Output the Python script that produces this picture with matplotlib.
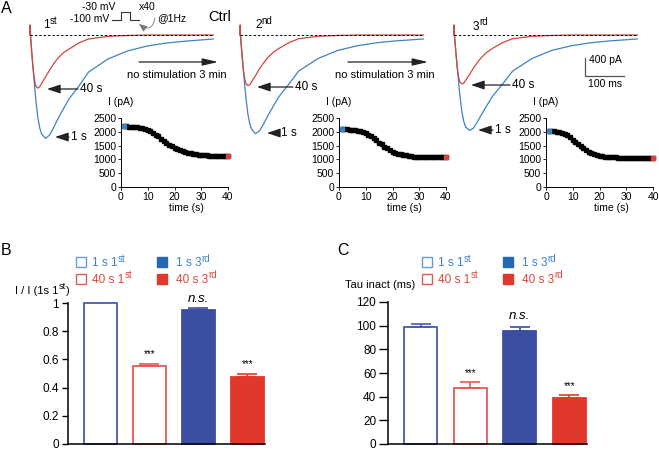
import numpy as np
import matplotlib.pyplot as plt

plt.rcParams['font.family'] = ['Liberation Sans', 'DejaVu Sans']

W, H = 659, 450

# --- current traces (time in ms, current in pA) ---
trace_t = [0, 0.5, 1.5, 3, 6, 9, 12, 15, 20, 25, 30, 40, 50, 60, 70, 85, 100,
           125, 150, 200, 250, 300, 350, 400, 470]
blue_1st = [0, 210, -40, -210, -530, -810, -1110, -1380, -1750, -1980, -2110, -2200,
            -2130, -1980, -1810, -1580, -1360, -1090, -790, -510, -340, -235, -170, -130, -85]
red_1st = [0, 210, -40, -210, -530, -800, -980, -1090, -1130, -1100, -1030, -890,
           -750, -620, -510, -380, -300, -170, -85, -30, -10, 0, 0, 0, 0]
blue_2nd = [0, 210, -40, -200, -500, -780, -1060, -1320, -1670, -1890, -2010, -2100,
            -2040, -1900, -1740, -1520, -1310, -1050, -770, -500, -330, -230, -165, -125, -85]
red_2nd = [0, 210, -40, -200, -500, -760, -930, -1030, -1075, -1060, -990, -860,
           -720, -600, -490, -370, -285, -165, -80, -28, -10, 0, 0, 0, 0]
blue_3rd = [0, 210, -40, -190, -480, -750, -1020, -1280, -1620, -1840, -1960, -2030,
            -1980, -1850, -1700, -1490, -1290, -1040, -770, -500, -330, -230, -165, -125, -85]
red_3rd = [0, 210, -40, -190, -480, -740, -900, -1000, -1040, -1025, -960, -840,
           -700, -585, -480, -360, -280, -160, -80, -28, -10, 0, 0, 0, 0]

# --- peak current during 40 pulses @1Hz (pA) ---
pulse_t = list(range(1, 41))
peak_1st = [2200, 2195, 2190, 2185, 2175, 2165, 2150, 2130, 2110, 2080,
            2030, 1970, 1900, 1830, 1750, 1670, 1600, 1530, 1470, 1420,
            1380, 1340, 1300, 1270, 1240, 1220, 1200, 1185, 1170, 1160,
            1150, 1145, 1140, 1135, 1135, 1130, 1130, 1130, 1130, 1130]
peak_2nd = [2100, 2095, 2090, 2080, 2070, 2055, 2040, 2020, 1990, 1950,
            1895, 1830, 1760, 1690, 1610, 1540, 1465, 1400, 1340, 1285,
            1245, 1210, 1185, 1165, 1145, 1125, 1110, 1100, 1095, 1090,
            1088, 1085, 1083, 1080, 1080, 1078, 1077, 1076, 1075, 1075]
peak_3rd = [2030, 2025, 2015, 2005, 1990, 1960, 1920, 1870, 1800, 1720,
            1640, 1550, 1470, 1400, 1330, 1275, 1230, 1195, 1165, 1140,
            1120, 1105, 1095, 1085, 1078, 1070, 1065, 1060, 1055, 1052,
            1050, 1048, 1046, 1044, 1042, 1040, 1040, 1040, 1040, 1040]

# --- bar charts ---
groups = [('1 s 1', 'st'), ('40 s 1', 'st'), ('1 s 3', 'rd'), ('40 s 3', 'rd')]
ratio_vals = [1.0, 0.552, 0.952, 0.476]
ratio_err = [0, 0.015, 0.01, 0.018]
tau_vals = [98.8, 47.3, 95.1, 39.1]
tau_err = [3.0, 4.8, 4.0, 2.5]
signif = ['', '***', 'n.s.', '***']

BLUE = '#3f82c1'
RED = '#d5433c'
BAR_FACE = ['white', 'white', '#3c4ea2', '#e0392b']
BAR_EDGE = ['#4b5aad', '#df5d55', '#3c4ea2', '#e0392b']
LEG_TEXT = ['#3f80c2', '#d9463d', '#3f80c2', '#d9463d']
LEG_FACE = ['white', 'white', '#2468b2', '#e0392b']
LEG_EDGE = ['#6a9bd1', '#dd5a52', '#2468b2', '#e0392b']

fig = plt.figure(figsize=(W / 100, H / 100), dpi=100)


def box(x0, y0, x1, y1):
    return fig.add_axes([x0 / W, 1 - y1 / H, (x1 - x0) / W, (y1 - y0) / H])


# traces
runs = [(30, blue_1st, red_1st), (240, blue_2nd, red_2nd), (454, blue_3rd, red_3rd)]
trace_axes = []
for start, b, r in runs:
    ax = box(start - 3.9, 20.9, start + 187.2, 152.5)
    ax.set_xlim(-10, 480)
    ax.set_ylim(-2500, 300)
    ax.axis('off')
    ax.plot(trace_t, b, color=BLUE, lw=0.9)
    ax.plot(trace_t, r, color=RED, lw=0.9)
    ax.plot([0, 470], [0, 0], color='k', lw=0.7, ls=(0, (2.5, 2)))
    trace_axes.append(ax)

# scale bar
sb = trace_axes[2]
sb.plot([336, 336, 436], [-480, -880, -880], color='#555555', lw=0.9)
sb.text(345, -540, '400 pA', fontsize=7.5, va='center')
sb.text(388, -1050, '100 ms', fontsize=7.5, va='center', ha='center')

# stimulation protocol
step_t = [0, 1, 1, 2, 2, 3]
step_v = [-100, -100, -30, -30, -100, -100]
st = box(112, 12, 139, 20)
st.set_xlim(0, 3)
st.set_ylim(-100, -30)
st.axis('off')
st.plot(step_t, step_v, color='#333333', lw=0.8, clip_on=False)

# insets
for x0, vals in [(121, peak_1st), (339, peak_2nd), (546, peak_3rd)]:
    ax = box(x0, 118, x0 + 107, 187)
    ax.plot(pulse_t, vals, color='k', marker='s', ms=2.4, lw=0.8, clip_on=False)
    ax.plot(pulse_t[0], vals[0], 's', color=BLUE, ms=2.6, clip_on=False)
    ax.plot(pulse_t[-1], vals[-1], 's', color=RED, ms=2.6, clip_on=False)
    ax.set_xlim(0, 40)
    ax.set_ylim(0, 2500)
    ax.set_xticks([0, 10, 20, 30, 40])
    ax.set_yticks([0, 500, 1000, 1500, 2000, 2500])
    ax.tick_params(labelsize=7.5, length=2, pad=1.5, width=0.6)
    for s in ['top', 'right']:
        ax.spines[s].set_visible(False)
    for s in ['left', 'bottom']:
        ax.spines[s].set_linewidth(0.7)
    ax.text(0, 1.23, 'I (pA)', transform=ax.transAxes, ha='center', va='center', fontsize=7.5)
    ax.text(0.61, -0.30, 'time (s)', transform=ax.transAxes, ha='center', va='center', fontsize=7.5)


def bar_panel(ax, vals, errs, ymax, ticks, ticklabels, star_off, ns_off, fs, ticklen):
    x = np.arange(len(vals))
    ax.bar(x, vals, width=0.67, color=BAR_FACE, edgecolor=BAR_EDGE, linewidth=1.3, clip_on=False, zorder=2)
    for i in range(len(vals)):
        if errs[i] > 0:
            ax.errorbar(x[i], vals[i], yerr=[[0], [errs[i]]], fmt='none', ecolor=BAR_EDGE[i],
                        elinewidth=1.2, capsize=7, capthick=1.2, zorder=3, clip_on=False)
        if signif[i] == '***':
            ax.text(x[i], vals[i] + errs[i] + star_off, '***', ha='center', va='baseline', fontsize=7)
        elif signif[i] == 'n.s.':
            ax.text(x[i], vals[i] + errs[i] + ns_off, 'n.s.', ha='center', va='baseline',
                    fontsize=9.5, style='italic')
    ax.set_xlim(-0.66, 3.36)
    ax.set_ylim(0, ymax)
    ax.set_xticks([])
    ax.set_yticks(ticks)
    ax.set_yticklabels(ticklabels)
    ax.tick_params(axis='y', labelsize=fs, length=ticklen, pad=2, width=1)
    for s in ['top', 'right']:
        ax.spines[s].set_visible(False)
    for s in ['left', 'bottom']:
        ax.spines[s].set_linewidth(1.1)


bx = box(68, 303, 265, 444)
bar_panel(bx, ratio_vals, ratio_err, 1.0, [0, 0.2, 0.4, 0.6, 0.8, 1.0],
          ['0', '0.2', '0.4', '0.6', '0.8', '1'], 0.05, 0.045, 8.5, 4.5)

cx = box(388, 302, 587, 444)
bar_panel(cx, tau_vals, tau_err, 120, [0, 20, 40, 60, 80, 100, 120],
          ['0', '20', '40', '60', '80', '100', '120'], 5, 6.8, 8.5, 6.5)

# overlay for labels and arrows (pixel coordinates, y down)
ov = fig.add_axes([0, 0, 1, 1])
ov.set_xlim(0, W)
ov.set_ylim(H, 0)
ov.axis('off')
renderer = fig.canvas.get_renderer()


def rich(x, y, parts, fs, color='k'):
    # parts: list of (text, superscript?) drawn one after another on one baseline
    for txt, sup in parts:
        size = fs * 0.82 if sup else fs
        yy = y - fs * 0.42 * 100 / 72 if sup else y
        t = ov.text(x, yy, txt, fontsize=size, color=color, va='baseline', ha='left')
        bb = t.get_window_extent(renderer=renderer)
        x = ov.transData.inverted().transform((bb.x1, bb.y0))[0] + 0.3


ov.text(1, 1, 'A', fontsize=11.5, va='top', ha='left')
ov.text(1, 243, 'B', fontsize=11.5, va='top', ha='left')
ov.text(337, 243, 'C', fontsize=11.5, va='top', ha='left')

ov.text(82, 6.5, '-30 mV', fontsize=7.5, va='center')
ov.text(70, 18.5, '-100 mV', fontsize=7.5, va='center')
ov.text(139, 6.5, 'x40', fontsize=7.5, va='center')
ov.text(157, 18.5, '@1Hz', fontsize=7.5, va='center')
ov.text(208, 17, 'Ctrl', fontsize=10.5, va='center')
ov.annotate('', xy=(139, 24), xytext=(155, 18),
            arrowprops=dict(arrowstyle='-|>,head_length=0.6,head_width=0.25', mutation_scale=8,
                            connectionstyle='arc3,rad=-0.8', color='#777777', lw=0.6,
                            shrinkA=0, shrinkB=0))

rich(43, 28.5, [('1', False), ('st', True)], 8.5)
rich(255, 28.5, [('2', False), ('nd', True)], 8.5)
rich(473, 29.5, [('3', False), ('rd', True)], 8.5)


def arrow(x_from, x_to, y, hl, hw):
    ov.annotate('', xy=(x_to, y), xytext=(x_from, y),
                arrowprops=dict(arrowstyle='-|>,head_length=%s,head_width=%s' % (hl, hw),
                                mutation_scale=10, color='#222222', lw=0.9,
                                shrinkA=0, shrinkB=0))


arrow(139, 218, 62, 0.94, 0.22)
arrow(348, 428, 62, 0.94, 0.22)
ov.text(177, 75, 'no stimulation 3 min', fontsize=8, ha='center', va='center')
ov.text(385, 75, 'no stimulation 3 min', fontsize=8, ha='center', va='center')

for x_from, x_to, y in [(78, 47, 89), (293, 257, 87), (510, 471, 85)]:
    arrow(x_from, x_to, y, 0.8, 0.27)
    ov.text(x_from + 2, y, '40 s', fontsize=8.5, va='center')
for x_from, x_to, y in [(69, 55, 137), (279, 267, 133), (493, 478, 130)]:
    arrow(x_from, x_to, y, 0.8, 0.27)
    ov.text(x_from + 2, y, '1 s', fontsize=8.5, va='center')

# legends and y labels of bar panels
rich(15, 294, [('I / I (1s 1', False), ('st', True), (')', False)], 8)
ov.text(345, 288, 'Tau inact (ms)', fontsize=8, va='baseline')
for lx in [81, 427]:
    for i, (base, sup) in enumerate(groups):
        col = lx if i < 2 else lx + 81
        row_y = 262 if i % 2 == 0 else 278.5
        ov.plot(col, row_y, 's', mfc=LEG_FACE[i], mec=LEG_EDGE[i], ms=6.5, mew=1)
        rich(col + 11 + (3 if i >= 2 else 0), row_y + 4.5, [(base, False), (sup, True)], 8.5, LEG_TEXT[i])

fig.savefig('out.png', dpi=100)
